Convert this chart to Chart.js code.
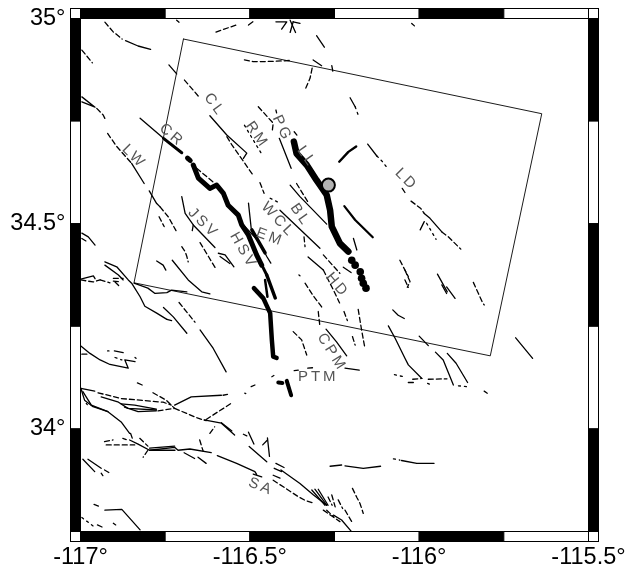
<!DOCTYPE html>
<html>
<head>
<meta charset="utf-8">
<title>Fault map</title>
<script src="https://cdn.jsdelivr.net/npm/chart.js@4"></script>
<style>
html, body { margin: 0; padding: 0; background: #fff; }
canvas { display: block; }
</style>
</head>
<body>
<canvas id="mapa" width="629" height="573"></canvas>
<script>
// tick labels and frame breaks, degrees
const lonTicks = [-117, -116.5, -116, -115.5];
const latTicks = [34, 34.5, 35];
const lonBreaks = [-117, -116.75, -116.5, -116.25, -116, -115.75, -115.5];
const latBreaks = [35, 34.75, 34.5, 34.25, 34, 33.75];

// study box: lon, lat
const studyBox = [-116.696, 34.950, -115.638, 34.768, -115.790, 34.178, -116.842, 34.356, -116.696, 34.950];

// epicentre
const epicentre = [-116.268, 34.594];

// each row is one trace: lon, lat, lon, lat...
const solidFaults = [
  [-116.867, 34.946, -116.830, 34.933, -116.793, 34.925],
  [-116.716, 34.996, -116.709, 34.991],
  [-116.504, 34.984, -116.491, 34.992],
  [-116.423, 34.992, -116.391, 34.992, -116.406, 34.974],
  [-116.372, 34.992, -116.381, 34.966],
  [-116.381, 34.996, -116.365, 34.966],
  [-116.372, 34.992, -116.352, 34.988],
  [-116.303, 34.958, -116.280, 34.930],
  [-116.313, 34.899, -116.288, 34.885],
  [-116.258, 34.885, -116.255, 34.872],
  [-116.739, 34.887, -116.716, 34.865],
  [-116.618, 34.763, -116.568, 34.716, -116.509, 34.672, -116.519, 34.659],
  [-116.413, 34.708, -116.378, 34.635],
  [-116.996, 34.809, -116.957, 34.784, -116.996, 34.797],
  [-116.849, 34.647, -116.812, 34.598],
  [-116.797, 34.580, -116.775, 34.549, -116.765, 34.541],
  [-116.824, 34.757, -116.755, 34.708],
  [-116.524, 34.502, -116.470, 34.453, -116.450, 34.420, -116.438, 34.404],
  [-116.504, 34.550, -116.496, 34.489],
  [-116.152, 34.694, -116.125, 34.665],
  [-116.204, 34.807, -116.189, 34.785],
  [-116.194, 34.464, -116.184, 34.436],
  [-116.224, 34.394, -116.201, 34.381],
  [-116.022, 34.988, -116.014, 34.982],
  [-116.050, 34.586, -116.042, 34.576],
  [-115.985, 34.525, -115.968, 34.513, -115.933, 34.480],
  [-115.985, 34.505, -115.997, 34.485],
  [-115.946, 34.377, -115.917, 34.334],
  [-115.933, 34.351, -115.919, 34.330],
  [-115.919, 34.346, -115.894, 34.318],
  [-116.078, 34.290, -116.062, 34.277, -116.044, 34.269],
  [-116.091, 34.251, -116.071, 34.221, -116.042, 34.172, -116.032, 34.156, -115.992, 34.123],
  [-116.000, 34.226, -115.973, 34.203],
  [-115.952, 34.187, -115.929, 34.168, -115.899, 34.107],
  [-115.917, 34.184, -115.891, 34.160, -115.857, 34.113],
  [-115.715, 34.222, -115.665, 34.172],
  [-115.808, 34.092, -115.799, 34.087],
  [-116.263, 33.909, -116.229, 33.912],
  [-116.219, 33.910, -116.165, 33.904, -116.114, 33.909],
  [-116.052, 33.923, -116.007, 33.916, -115.956, 33.916],
  [-116.253, 33.790, -116.229, 33.778, -116.201, 33.751],
  [-116.408, 33.900, -116.352, 33.867, -116.312, 33.839, -116.273, 33.814],
  [-116.317, 33.851, -116.278, 33.814],
  [-116.308, 33.853, -116.273, 33.814],
  [-116.298, 33.853, -116.269, 33.814],
  [-116.423, 33.916, -116.399, 33.906],
  [-116.428, 33.904, -116.406, 33.896],
  [-116.431, 33.887, -116.411, 33.880],
  [-116.596, 33.935, -116.539, 33.916, -116.485, 33.896, -116.480, 33.889],
  [-116.490, 33.890, -116.465, 33.883],
  [-116.502, 33.957, -116.450, 33.920],
  [-116.448, 33.978, -116.442, 33.933],
  [-116.462, 33.961, -116.448, 33.973],
  [-116.504, 33.992, -116.488, 33.963],
  [-116.999, 34.099, -116.958, 34.092],
  [-116.939, 34.078, -116.890, 34.066, -116.860, 34.050, -116.776, 34.046],
  [-116.880, 34.061, -116.840, 34.058, -116.776, 34.048],
  [-116.870, 34.053, -116.830, 34.042, -116.776, 34.044],
  [-116.722, 34.058, -116.673, 34.078, -116.584, 34.082],
  [-116.635, 34.022, -116.584, 34.014, -116.545, 33.985],
  [-116.584, 34.015, -116.553, 33.995],
  [-116.993, 34.091, -116.968, 34.058, -116.919, 34.042, -116.880, 34.017, -116.855, 33.989],
  [-116.999, 34.099, -116.988, 34.070, -116.963, 34.054, -116.919, 34.042],
  [-116.855, 33.973, -116.830, 33.963, -116.796, 33.948, -116.722, 33.955, -116.712, 33.948, -116.677, 33.951, -116.614, 33.942],
  [-116.796, 33.953, -116.722, 33.958],
  [-116.796, 33.948, -116.721, 33.948],
  [-116.694, 33.942, -116.663, 33.928],
  [-116.653, 33.931, -116.629, 33.916],
  [-116.993, 33.926, -116.958, 33.896],
  [-116.978, 33.926, -116.939, 33.904],
  [-116.928, 33.802, -116.878, 33.804, -116.824, 33.754],
  [-116.999, 34.202, -116.972, 34.184, -116.942, 34.168, -116.913, 34.157, -116.859, 34.148, -116.869, 34.168, -116.839, 34.164],
  [-116.900, 34.190, -116.874, 34.186],
  [-116.832, 34.112, -116.818, 34.107],
  [-116.999, 34.365, -116.962, 34.373, -116.957, 34.366],
  [-116.928, 34.407, -116.893, 34.395, -116.859, 34.363, -116.849, 34.355, -116.824, 34.322, -116.810, 34.299, -116.775, 34.282, -116.745, 34.267],
  [-116.928, 34.399, -116.888, 34.375, -116.874, 34.363],
  [-116.755, 34.296, -116.726, 34.273, -116.686, 34.233],
  [-116.647, 34.241, -116.608, 34.196, -116.570, 34.139],
  [-116.842, 34.355, -116.801, 34.343, -116.780, 34.330, -116.745, 34.332, -116.731, 34.338, -116.686, 34.334],
  [-116.729, 34.411, -116.682, 34.363, -116.642, 34.334, -116.618, 34.329],
  [-116.775, 34.409, -116.756, 34.399, -116.748, 34.387],
  [-116.701, 34.566, -116.691, 34.525, -116.667, 34.497, -116.603, 34.442],
  [-116.667, 34.497, -116.670, 34.483],
  [-116.593, 34.428, -116.573, 34.424, -116.547, 34.395],
  [-116.588, 34.420, -116.559, 34.403],
  [-116.996, 34.477, -116.977, 34.468, -116.957, 34.448],
  [-116.996, 34.464, -116.984, 34.458],
  [-116.411, 34.533, -116.293, 34.440],
  [-116.381, 34.594, -116.352, 34.566, -116.273, 34.499],
  [-116.328, 34.419, -116.283, 34.387],
  [-116.275, 34.243, -116.244, 34.212, -116.214, 34.178],
  [-116.219, 34.148, -116.177, 34.143]
];

const dashedFaults = [
  [-116.928, 34.991, -116.904, 34.968, -116.877, 34.950],
  [-116.996, 34.923, -116.965, 34.892],
  [-116.600, 34.967, -116.534, 34.986],
  [-116.516, 34.899, -116.491, 34.895, -116.460, 34.895, -116.421, 34.896, -116.375, 34.898],
  [-116.316, 34.879, -116.322, 34.855, -116.337, 34.826],
  [-116.693, 34.850, -116.647, 34.806],
  [-116.568, 34.712, -116.553, 34.692, -116.491, 34.619],
  [-116.475, 34.785, -116.431, 34.745, -116.434, 34.724],
  [-116.423, 34.777, -116.421, 34.770],
  [-116.369, 34.724, -116.361, 34.716],
  [-116.952, 34.781, -116.933, 34.765, -116.926, 34.753],
  [-116.920, 34.720, -116.893, 34.688, -116.849, 34.647],
  [-116.765, 34.541, -116.741, 34.517, -116.718, 34.483],
  [-116.768, 34.517, -116.753, 34.493],
  [-116.657, 34.635, -116.603, 34.598],
  [-116.024, 34.555, -115.995, 34.537, -115.985, 34.525],
  [-115.933, 34.480, -115.914, 34.468, -115.877, 34.438],
  [-116.057, 34.411, -116.032, 34.371],
  [-116.042, 34.387, -116.027, 34.359, -116.035, 34.345],
  [-116.042, 34.363, -116.032, 34.345],
  [-115.840, 34.357, -115.825, 34.330, -115.813, 34.308, -115.808, 34.302],
  [-116.180, 34.291, -116.170, 34.241, -116.160, 34.196],
  [-116.222, 34.286, -116.212, 34.264],
  [-116.197, 34.225, -116.189, 34.204],
  [-116.032, 34.113, -116.017, 34.113],
  [-116.019, 34.121, -115.992, 34.123],
  [-115.973, 34.121, -115.918, 34.122],
  [-116.197, 33.855, -116.184, 33.833, -116.175, 33.819, -116.165, 33.794],
  [-116.258, 33.839, -116.248, 33.810],
  [-116.239, 33.827, -116.226, 33.806],
  [-116.219, 33.802, -116.199, 33.774],
  [-116.269, 33.834, -116.257, 33.814],
  [-116.273, 33.802, -116.253, 33.786],
  [-116.431, 33.875, -116.357, 33.835, -116.337, 33.826, -116.312, 33.819],
  [-116.283, 33.802, -116.234, 33.774],
  [-116.519, 33.987, -116.509, 33.983],
  [-116.948, 34.088, -116.880, 34.074, -116.756, 34.065, -116.732, 34.058],
  [-116.771, 34.044, -116.722, 34.050],
  [-116.722, 34.050, -116.653, 34.026, -116.629, 34.020],
  [-116.786, 34.088, -116.747, 34.070, -116.722, 34.050],
  [-116.579, 34.082, -116.566, 34.084],
  [-116.629, 34.023, -116.550, 34.065],
  [-116.496, 34.103, -116.485, 34.107],
  [-116.435, 34.127, -116.429, 34.130],
  [-116.618, 33.989, -116.604, 34.005],
  [-116.852, 33.989, -116.847, 33.977],
  [-116.929, 33.969, -116.904, 33.973],
  [-116.924, 33.961, -116.840, 33.961],
  [-116.875, 33.977, -116.865, 33.974],
  [-116.825, 33.977, -116.801, 33.958],
  [-116.801, 33.948, -116.815, 33.931],
  [-116.648, 33.973, -116.638, 33.946],
  [-116.929, 33.900, -116.909, 33.890],
  [-116.939, 33.892, -116.934, 33.886],
  [-116.960, 33.816, -116.947, 33.812],
  [-116.950, 33.766, -116.934, 33.760],
  [-116.903, 33.770, -116.896, 33.766],
  [-116.996, 34.182, -116.977, 34.182],
  [-116.999, 34.363, -116.963, 34.358, -116.942, 34.363],
  [-116.942, 34.363, -116.913, 34.356],
  [-116.898, 34.358, -116.883, 34.346],
  [-116.903, 34.367, -116.874, 34.367],
  [-116.903, 34.360, -116.888, 34.359],
  [-116.745, 34.267, -116.731, 34.264],
  [-116.709, 34.308, -116.662, 34.260],
  [-116.701, 34.444, -116.691, 34.432, -116.686, 34.420, -116.682, 34.407],
  [-116.647, 34.454, -116.601, 34.391],
  [-116.470, 34.600, -116.458, 34.574],
  [-116.362, 34.598, -116.327, 34.551],
  [-116.340, 34.468, -116.337, 34.444],
  [-116.283, 34.424, -116.234, 34.379],
  [-116.283, 34.387, -116.253, 34.338, -116.235, 34.307],
  [-116.337, 34.355, -116.314, 34.326, -116.285, 34.294],
  [-116.298, 34.286, -116.293, 34.249],
  [-116.372, 34.237, -116.347, 34.217, -116.332, 34.180],
  [-116.369, 34.142, -116.357, 34.143],
  [-116.329, 34.148, -116.315, 34.149]
];

const dottedFaults = [
  [-116.516, 34.740, -116.490, 34.704, -116.463, 34.667],
  [-116.125, 34.665, -116.115, 34.657, -116.106, 34.649, -116.091, 34.632],
  [-116.189, 34.785, -116.180, 34.765],
  [-115.978, 34.501, -115.950, 34.462],
  [-116.073, 34.132, -116.045, 34.127],
  [-115.884, 34.105, -115.859, 34.103],
  [-116.076, 33.927, -116.057, 33.924],
  [-116.440, 34.562, -116.411, 34.550],
  [-116.898, 34.174, -116.878, 34.168],
  [-116.996, 33.784, -116.962, 33.763],
  [-116.920, 34.190, -116.916, 34.190],
  [-116.839, 34.174, -116.836, 34.172],
  [-116.515, 34.087, -116.512, 34.086],
  [-116.355, 34.375, -116.352, 34.373],
  [-115.975, 34.111, -115.970, 34.109],
  [-116.983, 34.062, -116.980, 34.059]
];

// surface rupture traces, with their stroke width alongside
const ruptureTraces = [
  [-116.755, 34.708, -116.701, 34.673],
  [-116.684, 34.660, -116.676, 34.654],
  [-116.667, 34.643, -116.652, 34.611, -116.618, 34.586, -116.598, 34.594, -116.578, 34.574, -116.564, 34.545, -116.534, 34.521, -116.524, 34.497, -116.504, 34.472, -116.480, 34.424, -116.465, 34.399],
  [-116.494, 34.485, -116.455, 34.429],
  [-116.462, 34.395, -116.450, 34.375],
  [-116.450, 34.375, -116.425, 34.319],
  [-116.455, 34.363, -116.448, 34.322],
  [-116.488, 34.343, -116.460, 34.318, -116.440, 34.282, -116.435, 34.217, -116.431, 34.176, -116.421, 34.173],
  [-116.416, 34.113, -116.404, 34.112],
  [-116.391, 34.117, -116.378, 34.082],
  [-116.370, 34.700, -116.362, 34.671, -116.332, 34.643, -116.303, 34.606, -116.273, 34.570, -116.263, 34.533, -116.258, 34.493, -116.234, 34.452, -116.209, 34.432],
  [-116.236, 34.651, -116.209, 34.675, -116.186, 34.688],
  [-116.221, 34.543, -116.189, 34.509, -116.137, 34.467]
];
const ruptureWidths = [3, 5, 5, 3.5, 3, 3.5, 2.5, 4.5, 4, 4, 6.5, 2.4, 2.2];

// rupture tail drawn as separate dots
const tailLons = [-116.199, -116.189, -116.174, -116.170, -116.165, -116.157];
const tailLats = [34.411, 34.399, 34.383, 34.367, 34.355, 34.343];

// fault names and where they sit
const labelNames = ['CL', 'CR', 'LW', 'RM', 'PG', 'LL', 'LD', 'BL', 'WCL', 'EM', 'JSV', 'HSV', 'HD', 'CPM', 'PTM', 'SA'];
const labelLons = [-116.604, -116.730, -116.842, -116.479, -116.405, -116.332, -116.038, -116.351, -116.416, -116.440, -116.637, -116.519, -116.242, -116.258, -116.298, -116.467];
const labelLats = [34.789, 34.715, 34.663, 34.716, 34.732, 34.663, 34.607, 34.521, 34.509, 34.467, 34.501, 34.434, 34.350, 34.186, 34.126, 33.859];
const labelAngles = [54, 41, 45, 55, 65, 55, 45, 55, 47, 20, 45, 60, 50, 58, 0, 22];

function toPoints(flat) {
  const pts = [];
  for (let i = 0; i < flat.length; i += 2) {
    pts.push({ x: flat[i], y: flat[i + 1] });
  }
  return pts;
}

function trace(flat, width, dash) {
  return {
    data: toPoints(flat),
    showLine: true,
    borderColor: '#000',
    borderWidth: width,
    borderDash: dash || [],
    borderCapStyle: 'round',
    borderJoinStyle: 'round',
    pointRadius: 0,
    tension: 0
  };
}

const datasets = [];
// epicentre first so it sits on top
datasets.push({
  data: [{ x: epicentre[0], y: epicentre[1] }],
  pointRadius: 6.5,
  pointBorderWidth: 2,
  pointBackgroundColor: '#b3b3b3',
  pointBorderColor: '#000'
});
datasets.push({
  data: tailLons.map((lon, i) => ({ x: lon, y: tailLats[i] })),
  pointRadius: 3.8,
  pointBorderWidth: 0,
  pointBackgroundColor: '#000'
});
ruptureTraces.forEach((t, i) => datasets.push(trace(t, ruptureWidths[i])));
solidFaults.forEach(t => datasets.push(trace(t, 1.3)));
dashedFaults.forEach(t => datasets.push(trace(t, 1.3, [5, 3])));
dottedFaults.forEach(t => datasets.push(trace(t, 1.3, [2, 4])));
datasets.push(trace(studyBox, 0.9));

// checkered map border and fault names
const marco = {
  id: 'marco',
  afterDraw(chart) {
    const c = chart.ctx, sx = chart.scales.x, sy = chart.scales.y;
    const a = chart.chartArea, w = 10;
    c.save();
    c.lineWidth = 1;
    c.strokeStyle = '#000';
    function cell(x, y, cw, ch, black) {
      c.fillStyle = black ? '#000' : '#fff';
      c.fillRect(x, y, cw, ch);
      c.strokeRect(x, y, cw, ch);
    }
    for (let i = 0; i < lonBreaks.length - 1; i++) {
      const x0 = sx.getPixelForValue(lonBreaks[i]), x1 = sx.getPixelForValue(lonBreaks[i + 1]);
      cell(x0, a.top - w, x1 - x0, w, i % 2 === 0);
      cell(x0, a.bottom, x1 - x0, w, i % 2 === 0);
    }
    for (let i = 0; i < latBreaks.length - 1; i++) {
      const y0 = sy.getPixelForValue(latBreaks[i]), y1 = sy.getPixelForValue(latBreaks[i + 1]);
      cell(a.left - w, y0, w, y1 - y0, i % 2 === 0);
      cell(a.right, y0, w, y1 - y0, i % 2 === 0);
    }
    cell(a.left - w, a.top - w, w, w, false);
    cell(a.right, a.top - w, w, w, false);
    cell(a.left - w, a.bottom, w, w, false);
    cell(a.right, a.bottom, w, w, false);

    c.fillStyle = '#555';
    c.font = '15px "Liberation Sans"';
    c.textAlign = 'center';
    c.textBaseline = 'middle';
    c.letterSpacing = '3px';
    labelNames.forEach((name, i) => {
      c.save();
      c.translate(sx.getPixelForValue(labelLons[i]), sy.getPixelForValue(labelLats[i]));
      c.rotate(labelAngles[i] * Math.PI / 180);
      c.fillText(name, 0, 0);
      c.restore();
    });
    c.restore();
  }
};

new Chart(document.getElementById('mapa').getContext('2d'), {
  type: 'scatter',
  data: { datasets: datasets },
  plugins: [marco],
  options: {
    responsive: false,
    animation: false,
    layout: {
      autoPadding: false,
      padding: { left: 0, top: 18.5, right: 40.5, bottom: 0 }
    },
    plugins: { legend: { display: false }, tooltip: { enabled: false } },
    scales: {
      x: {
        type: 'linear',
        min: -117,
        max: -115.5,
        afterBuildTicks: axis => { axis.ticks = lonTicks.map(v => ({ value: v })); },
        afterFit: axis => {
          axis.height = 41.5;
          axis.paddingLeft = 0;
          axis.paddingRight = 0;
        },
        grid: { display: false, drawTicks: false },
        border: { display: false },
        ticks: {
          autoSkip: false,
          maxRotation: 0,
          padding: 12,
          color: '#000',
          font: { family: '"Liberation Sans"', size: 23.5 },
          callback: v => v + '°'
        }
      },
      y: {
        type: 'linear',
        min: 33.75,
        max: 35,
        afterBuildTicks: axis => { axis.ticks = latTicks.map(v => ({ value: v })); },
        afterFit: axis => {
          axis.width = 80.5;
          axis.paddingTop = 0;
          axis.paddingBottom = 0;
        },
        grid: { display: false, drawTicks: false },
        border: { display: false },
        ticks: {
          autoSkip: false,
          padding: 15,
          color: '#000',
          font: { family: '"Liberation Sans"', size: 23.5 },
          callback: v => v + '°'
        }
      }
    }
  }
});
</script>
</body>
</html>
